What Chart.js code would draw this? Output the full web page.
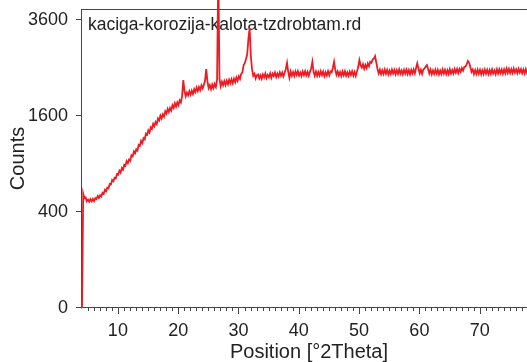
<!DOCTYPE html>
<html>
<head>
<meta charset="utf-8">
<script src="https://cdn.jsdelivr.net/npm/chart.js@4/dist/chart.umd.min.js"></script>
<style>
  html, body { margin: 0; padding: 0; background: #fff; overflow: hidden; width: 527px; height: 362px; }
  canvas { display: block; }
</style>
</head>
<body>
<canvas id="xrd" width="536" height="362"></canvas>
<script>
// Scan description
const sampleName = 'kaciga-korozija-kalota-tzdrobtam.rd';
const xTitle = 'Position [°2Theta]';
const yTitle = 'Counts';

// Scan grid (°2Theta): first step and step width
const startAngle = 4.05;
const stepAngle = 0.2;

// Measured intensities, one per step, ten steps (2°) per row
const counts = [
  0, 569, 524, 531, 495, 510, 490, 514, 494, 516,            // 4.05
  495, 525, 515, 544, 525, 552, 539, 577, 567, 606,          // 6.05
  592, 630, 622, 669, 664, 710, 696, 736, 729, 778,          // 8.05
  771, 818, 795, 850, 829, 891, 879, 936, 909, 958,          // 10.05
  941, 1013, 998, 1063, 1038, 1093, 1076, 1155, 1142, 1211,  // 12.05
  1181, 1251, 1233, 1319, 1301, 1368, 1335, 1418, 1395, 1472,// 14.05
  1433, 1501, 1469, 1557, 1527, 1606, 1559, 1628, 1589, 1678,// 16.05
  1640, 1719, 1666, 1737, 1692, 1783, 1738, 1819, 1760, 1835,// 18.05
  1786, 1870, 1833, 1950, 2255, 2040, 1945, 2015, 1962, 2040,// 20.05
  1975, 2050, 1988, 2078, 2024, 2109, 2041, 2118, 2060, 2150,// 22.05
  2092, 2160, 2240, 2478, 2230, 2100, 2155, 2077, 2165, 2100,// 24.05
  2178, 2120, 2260, 5000, 2280, 2135, 2222, 2154, 2235, 2158,// 26.05
  2241, 2172, 2262, 2195, 2272, 2194, 2281, 2215, 2307, 2242,// 28.05
  2330, 2278, 2380, 2410, 2560, 2600, 2690, 2800, 3150, 3400,// 30.05
  2750, 2470, 2340, 2380, 2285, 2350, 2367, 2285, 2348, 2280,// 32.05
  2367, 2310, 2387, 2295, 2357, 2310, 2387, 2300, 2382, 2335,// 34.05
  2405, 2318, 2387, 2326, 2408, 2338, 2406, 2328, 2400, 2480,// 36.05
  2610, 2420, 2300, 2425, 2340, 2415, 2335, 2430, 2357, 2435,// 38.05
  2345, 2407, 2337, 2426, 2353, 2434, 2348, 2418, 2340, 2420,// 40.05
  2490, 2630, 2420, 2340, 2427, 2339, 2415, 2347, 2433, 2353,// 42.05
  2425, 2335, 2411, 2345, 2431, 2349, 2430, 2410, 2500, 2630,// 44.05
  2460, 2360, 2429, 2345, 2415, 2335, 2427, 2351, 2433, 2341,// 46.05
  2409, 2339, 2425, 2355, 2431, 2343, 2419, 2337, 2425, 2520,// 48.05
  2670, 2560, 2510, 2580, 2485, 2565, 2500, 2595, 2535, 2630,// 50.05
  2610, 2680, 2700, 2755, 2620, 2480, 2390, 2465, 2370, 2450,// 52.05
  2378, 2468, 2384, 2460, 2370, 2446, 2376, 2466, 2390, 2460,// 54.05
  2372, 2454, 2380, 2470, 2382, 2448, 2374, 2462, 2386, 2466,// 56.05
  2376, 2456, 2370, 2460, 2390, 2469, 2390, 2500, 2600, 2490,// 58.05
  2390, 2465, 2380, 2470, 2490, 2530, 2560, 2480, 2385, 2464,// 60.05
  2372, 2450, 2378, 2466, 2386, 2460, 2370, 2448, 2376, 2468,// 62.05
  2384, 2462, 2374, 2454, 2380, 2475, 2387, 2455, 2386, 2476,// 64.05
  2403, 2479, 2400, 2481, 2420, 2500, 2445, 2520, 2530, 2580,// 66.05
  2650, 2610, 2520, 2420, 2470, 2375, 2458, 2378, 2466, 2384,// 68.05
  2460, 2370, 2450, 2376, 2468, 2382, 2462, 2374, 2456, 2380,// 70.05
  2470, 2386, 2448, 2372, 2469, 2385, 2471, 2395, 2470, 2384,// 72.05
  2471, 2393, 2488, 2402, 2482, 2396, 2474, 2400, 2490, 2404,// 74.05
  2470, 2394, 2484, 2408, 2475, 2391, 2468, 2390, 2476, 2400,// 76.05
  2470, 2410                                                  // 78.05
];

// Axis ticks
const angleTicks = [10, 20, 30, 40, 50, 60, 70];
const countTicks = [0, 400, 1600, 3600];

// Axis ranges (°2Theta, and square root of counts)
const angleMin = 4.05, angleMax = 79.34;
const rootMax = 62.29;

const twoTheta = counts.map((_, i) => +(startAngle + i * stepAngle).toFixed(2));
// Intensity axis is square-root scaled: plot sqrt(counts), label ticks with counts
const points = counts.map((c, i) => ({ x: twoTheta[i], y: Math.sqrt(c) }));

const FONT = "'Liberation Sans', Arial, Helvetica, sans-serif";
const AXIS = '#444';
const TEXT = '#222';

const axesPlugin = {
  id: 'axesFrame',
  beforeDatasetsDraw(chart) {
    const { ctx, chartArea: a, scales: { x, y } } = chart;
    ctx.save();
    ctx.strokeStyle = AXIS;
    ctx.lineWidth = 1;
    ctx.beginPath();
    // left, top and bottom edges of the plot frame
    ctx.moveTo(a.left - 0.5, a.top + 0.5);
    ctx.lineTo(a.left - 0.5, a.bottom + 0.5);
    ctx.moveTo(a.left - 1, a.top + 0.5);
    ctx.lineTo(a.right, a.top + 0.5);
    ctx.moveTo(a.left - 1, a.bottom - 0.5);
    ctx.lineTo(a.right, a.bottom - 0.5);
    // x ticks: major every 10°, minor every 1°
    for (let d = 5; d <= 79; d++) {
      const px = Math.round(x.getPixelForValue(d)) + 0.5;
      if (px < a.left || px > a.right) continue;
      const len = d % 10 === 0 ? 6 : 3;
      ctx.moveTo(px, a.bottom);
      ctx.lineTo(px, a.bottom + len);
    }
    // y ticks
    countTicks.forEach(v => {
      const py = Math.round(y.getPixelForValue(Math.sqrt(v))) - 0.5;
      ctx.moveTo(a.left - 6, py);
      ctx.lineTo(a.left, py);
    });
    ctx.stroke();

    // sample name inside the plot
    ctx.fillStyle = TEXT;
    ctx.font = '17.5px ' + FONT;
    ctx.textAlign = 'left';
    ctx.textBaseline = 'alphabetic';
    ctx.fillText(sampleName, a.left + 6, a.top + 20.5);
    ctx.restore();
  }
};

new Chart(document.getElementById('xrd'), {
  type: 'line',
  data: {
    datasets: [{
      data: points,
      borderColor: '#ed1c24',
      borderWidth: 1.8,
      pointRadius: 0,
      tension: 0,
      fill: false,
      clip: false
    }]
  },
  options: {
    responsive: false,
    animation: false,
    events: [],
    layout: { padding: { top: 9, left: 0, right: 0, bottom: 0 } },
    plugins: { legend: { display: false }, tooltip: { enabled: false } },
    scales: {
      x: {
        type: 'linear',
        min: angleMin,
        max: angleMax,
        afterBuildTicks: s => { s.ticks = angleTicks.map(v => ({ value: v })); },
        afterFit: s => { s.height = 54; s.paddingLeft = 0; s.paddingRight = 0; },
        grid: { display: false, drawTicks: false },
        border: { display: false },
        ticks: {
          autoSkip: false, maxRotation: 0, padding: 12, color: TEXT,
          font: { family: FONT, size: 18 },
          callback: v => String(v)
        },
        title: {
          display: true, text: xTitle, color: TEXT, padding: 0,
          font: { family: FONT, size: 20, lineHeight: 1 }
        }
      },
      y: {
        type: 'linear',
        min: 0,
        max: rootMax,
        afterBuildTicks: s => { s.ticks = countTicks.map(v => ({ value: Math.sqrt(v) })); },
        afterFit: s => { s.width = 82; s.paddingTop = 0; s.paddingBottom = 0; },
        grid: { display: false, drawTicks: false },
        border: { display: false },
        ticks: {
          autoSkip: false, padding: 14, color: TEXT,
          font: { family: FONT, size: 18 },
          callback: v => String(Math.round(v * v))
        },
        title: {
          display: true, text: yTitle, color: TEXT, padding: { top: 8, bottom: 0 },
          font: { family: FONT, size: 20, lineHeight: 1 }
        }
      }
    }
  },
  plugins: [axesPlugin]
});
</script>
</body>
</html>
